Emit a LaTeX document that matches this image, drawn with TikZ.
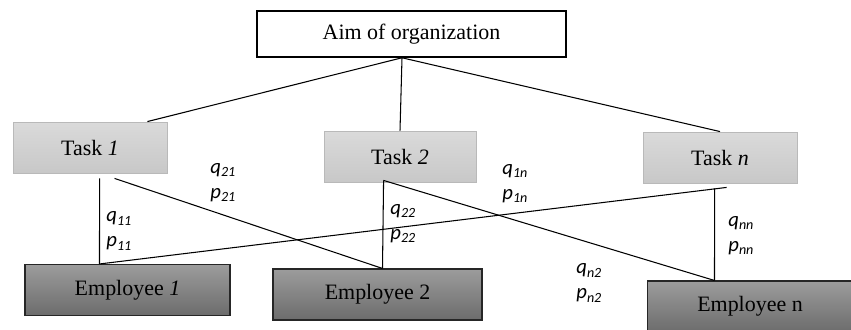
\documentclass[tikz,border=0pt]{standalone}
\usepackage{fontspec}
\setmainfont{Liberation Serif}
\newfontfamily\lblfont{Carlito}
\usetikzlibrary{calc}
\definecolor{tasktop}{RGB}{218,218,218}
\definecolor{taskbot}{RGB}{200,200,200}
\definecolor{taskline}{RGB}{185,185,185}
\definecolor{emptop}{RGB}{156,156,156}
\definecolor{empbot}{RGB}{108,108,108}

% weight labels: q over p with a lowered index
\newcommand{\lsub}[1]{\raisebox{-0.35ex}{\fontsize{8}{8}\selectfont #1}}
\newcommand{\qp}[1]{q\lsub{#1}\\p\lsub{#1}}

\begin{document}
\begin{tikzpicture}[x=0.02cm, y=-0.02cm,
    every node/.style={font=\fontsize{12.5}{14}\selectfont},
    aimbox/.style={draw=black, line width=0.9pt, fill=white, minimum width=6.18cm, minimum height=0.92cm},
    taskbox/.style={draw=taskline, line width=0.5pt, top color=tasktop, bottom color=taskbot, minimum width=3.08cm, minimum height=1.02cm},
    empbox/.style={draw=black!85, line width=0.6pt, top color=emptop, bottom color=empbot, minimum width=4.14cm, minimum height=1.02cm},
    weight/.style={font=\lblfont\itshape\fontsize{11.8}{14}\selectfont, align=left, anchor=west, inner sep=0pt},
    link/.style={line width=0.6pt}]

    \useasboundingbox (0,0) rectangle (851,330);
    \clip (0,0) rectangle (851,330);

    \node[aimbox] (aim) at (411.5,34) {Aim of organization};

    \node[taskbox] (t1) at (90,147.5) {Task \textit{1}};
    \node[taskbox, minimum width=3.04cm] (t2) at (400,156.5) {Task \textit{2}};
    \node[taskbox] (tn) at (720,157.5) {Task \textit{n}};

    \node[empbox, minimum width=4.1cm] (e1) at (127.5,290) {Employee \textit{1}};
    \node[empbox, minimum width=4.18cm] (e2) at (377.5,294.5) {Employee 2};
    \node[empbox, minimum width=4.12cm] (en) at (750,306.5) {Employee n};

    % where the links leave and reach the boxes
    \coordinate (aimfoot) at ($(aim.south)+(-9.5,0)$);
    \coordinate (t1v) at ($(t1.south west)+(87,5)$);
    \coordinate (t1d) at ($(t1.south west)+(102,5)$);
    \coordinate (t2v) at ($(t2.south west)+(60,-2)$);
    \coordinate (tnv) at ($(tn.south west)+(72,5)$);
    \coordinate (tnd) at ($(tn.south west)+(84,4)$);
    \coordinate (e1top) at ($(e1.north west)+(75,0)$);
    \coordinate (e2top) at ($(e2.north west)+(110,0)$);
    \coordinate (entop) at ($(en.north west)+(68,0)$);

    \draw[link] (aimfoot) -- ($(t1.north east)+(-20,0)$);
    \draw[link] (aimfoot) -- (t2.north);
    \draw[link] (aimfoot) -- (tn.north);

    \draw[link] (t1v) -- (e1top);
    \draw[link] (t1d) -- (e2top);
    \draw[link] (t2v) -- (e2top);
    \draw[link] (t2v) -- (entop);
    \draw[link] (tnv) -- (entop);
    \draw[link] (tnd) -- (e1top);

    \node[weight] (w11) at (106,231) {\qp{11}};
    \node[weight] (w21) at (210,182.5) {\qp{21}};
    \node[weight] (w22) at (390,223.5) {\qp{22}};
    \node[weight] (w1n) at (502,183.5) {\qp{1n}};
    \node[weight] (wnn) at (728,235.5) {\qp{nn}};
    \node[weight] (wn2) at (576,283) {\qp{n2}};

\end{tikzpicture}
\end{document}
